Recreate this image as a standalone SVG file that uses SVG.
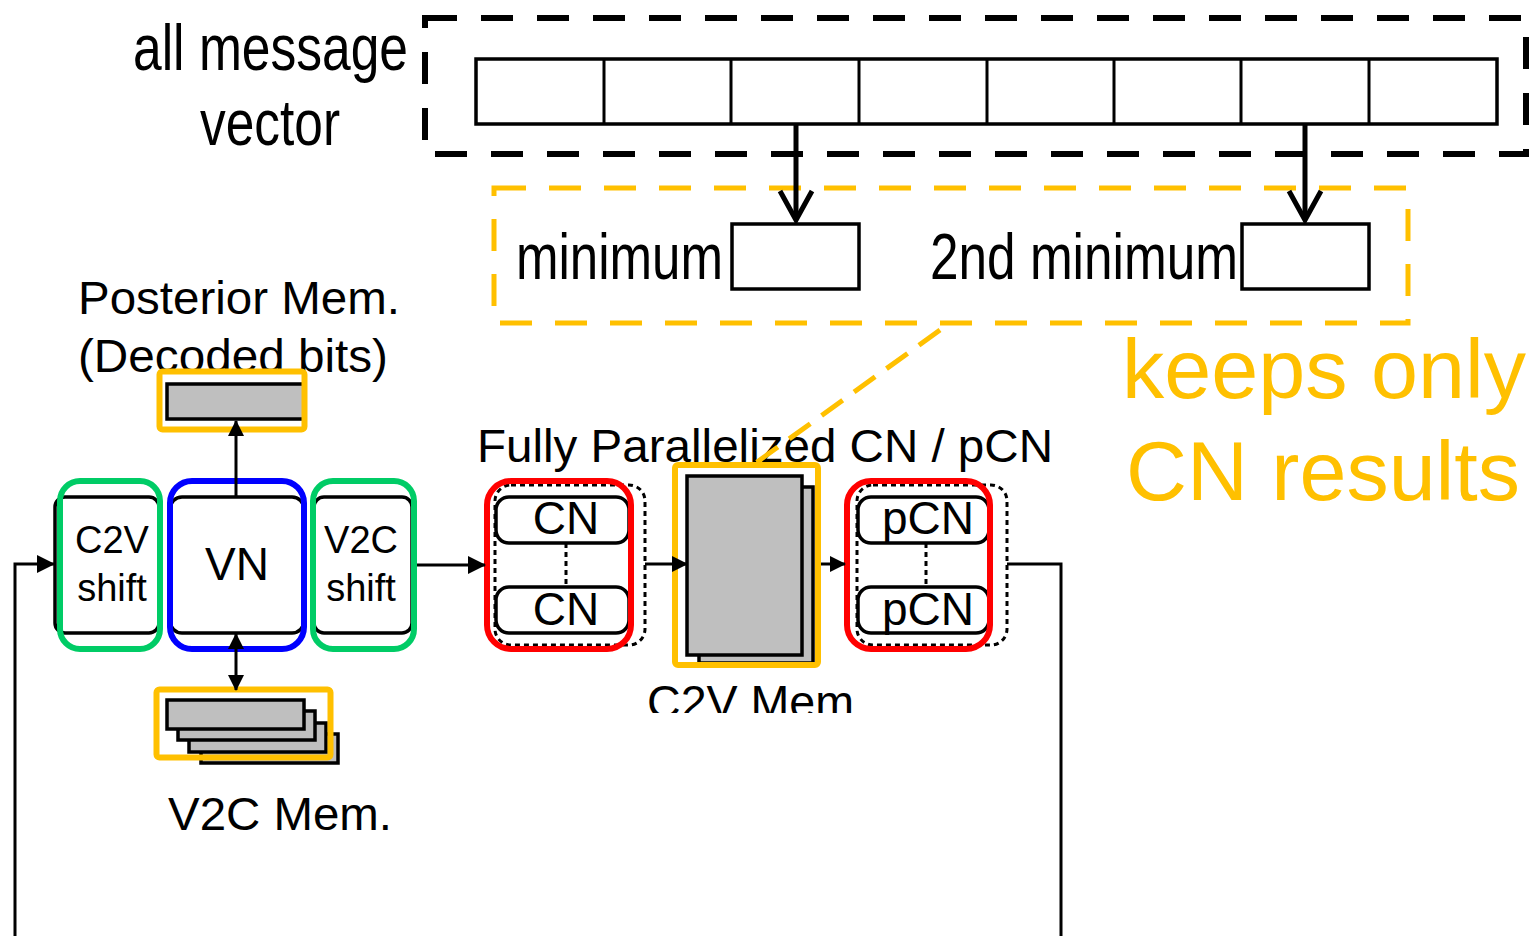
<svg xmlns="http://www.w3.org/2000/svg" width="1530" height="936" viewBox="0 0 1530 936">
  <style>
    text { font-family: "Liberation Sans", Arial, sans-serif; fill: #000; }
    .narrow { font-size: 64px; }
    .lbl { font-size: 46px; }
    .small { font-size: 38px; }
    .note { font-size: 84px; fill: #FFC000; }
    .blk { fill: #fff; stroke: #000; stroke-width: 3.5; }
    .gray { fill: #BFBFBF; stroke: #000; stroke-width: 3.5; }
    .green { fill: none; stroke: #00CC66; stroke-width: 6; }
    .blue { fill: none; stroke: #0000FF; stroke-width: 6; }
    .red { fill: none; stroke: #FF0000; stroke-width: 6; }
    .gold { fill: none; stroke: #FFC000; stroke-width: 6; }
    .dotted { fill: none; stroke: #000; stroke-width: 3; stroke-dasharray: 5 4; }
    .wire { fill: none; stroke: #000; stroke-width: 3; }
    .thick { fill: none; stroke: #000; stroke-width: 5; }
  </style>
  <defs>
    <marker id="tri" viewBox="0 0 18 18" refX="17" refY="9" markerWidth="18" markerHeight="18" markerUnits="userSpaceOnUse" orient="auto-start-reverse">
      <path d="M0,0 L18,9 L0,18 Z" fill="#000"/>
    </marker>
    <marker id="triS" viewBox="0 0 16 16" refX="15" refY="8" markerWidth="16" markerHeight="16" markerUnits="userSpaceOnUse" orient="auto-start-reverse">
      <path d="M0,0 L16,8 L0,16 Z" fill="#000"/>
    </marker>
    <clipPath id="memClip">
      <rect x="600" y="670" width="320" height="43"/>
    </clipPath>
  </defs>

  <!-- message vector with surrounding dashed frame -->
  <g id="message-vector">
    <rect x="425" y="18" width="1101" height="136" fill="none" stroke="#000" stroke-width="6" stroke-dasharray="32 24"/>
    <rect x="476" y="59" width="1021" height="65" class="blk"/>
    <path d="M604,59V124 M731,59V124 M859,59V124 M987,59V124 M1114,59V124 M1241,59V124 M1369,59V124" class="wire" stroke-width="3.5"/>
    <text x="133" y="70" class="narrow" textLength="275" lengthAdjust="spacingAndGlyphs">all message</text>
    <text x="200" y="145" class="narrow" textLength="140" lengthAdjust="spacingAndGlyphs">vector</text>
  </g>

  <!-- kept minimum values -->
  <g id="min-store">
    <rect x="494" y="188" width="914" height="135" fill="none" stroke="#FFC000" stroke-width="5" stroke-dasharray="32 23"/>
    <rect x="732" y="224" width="127" height="65" class="blk"/>
    <rect x="1242" y="224" width="127" height="65" class="blk"/>
    <text x="516" y="279" class="narrow" textLength="207" lengthAdjust="spacingAndGlyphs">minimum</text>
    <text x="930" y="279" class="narrow" textLength="308" lengthAdjust="spacingAndGlyphs">2nd minimum</text>
  </g>

  <g id="note">
    <text x="1122" y="398" class="note" textLength="404" lengthAdjust="spacingAndGlyphs">keeps only</text>
    <text x="1126" y="500" class="note" textLength="394" lengthAdjust="spacingAndGlyphs">CN results</text>
  </g>

  <!-- posterior memory -->
  <g id="posterior-mem">
    <text x="78" y="314" class="lbl" textLength="322" lengthAdjust="spacingAndGlyphs">Posterior Mem.</text>
    <text x="78" y="372" class="lbl" textLength="310" lengthAdjust="spacingAndGlyphs">(Decoded bits)</text>
    <rect x="167" y="384" width="137" height="35" class="gray"/>
    <rect x="159.5" y="371.5" width="145" height="58" rx="3" class="gold" stroke-width="5"/>
  </g>

  <!-- C2V shift -->
  <g id="c2v-shift">
    <rect x="55" y="497" width="104" height="136" rx="10" class="blk"/>
    <rect x="60" y="481" width="100" height="168" rx="20" class="green"/>
    <text x="112" y="553" class="small" text-anchor="middle">C2V</text>
    <text x="112" y="601" class="small" text-anchor="middle">shift</text>
  </g>

  <!-- variable node -->
  <g id="vn">
    <rect x="170" y="497" width="134" height="136" rx="12" class="blk"/>
    <rect x="170" y="481" width="134" height="168" rx="22" class="blue"/>
    <text x="237" y="580" class="lbl" text-anchor="middle">VN</text>
  </g>

  <!-- V2C shift -->
  <g id="v2c-shift">
    <rect x="314" y="497" width="98" height="136" rx="10" class="blk"/>
    <rect x="313" y="481" width="101" height="168" rx="20" class="green"/>
    <text x="361" y="553" class="small" text-anchor="middle">V2C</text>
    <text x="361" y="601" class="small" text-anchor="middle">shift</text>
  </g>

  <!-- V2C memory -->
  <g id="v2c-mem">
    <rect x="201" y="734" width="137" height="29" class="gray"/>
    <rect x="189" y="723" width="137" height="29" class="gray"/>
    <rect x="178" y="711" width="137" height="29" class="gray"/>
    <rect x="167" y="700" width="137" height="29" class="gray"/>
    <rect x="156.5" y="689.5" width="174" height="68" rx="3" class="gold" stroke-width="5"/>
    <text x="168" y="830" class="lbl" textLength="224" lengthAdjust="spacingAndGlyphs">V2C Mem.</text>
  </g>

  <text x="477" y="462" style="font-size:47px" textLength="576" lengthAdjust="spacingAndGlyphs">Fully Parallelized CN / pCN</text>

  <!-- check nodes -->
  <g id="cn-array">
    <rect x="495" y="485" width="150" height="160" rx="16" class="dotted"/>
    <rect x="496" y="497" width="133" height="46" rx="13" class="blk" stroke-width="3"/>
    <rect x="496" y="587" width="133" height="46" rx="13" class="blk" stroke-width="3"/>
    <path d="M566,543V587" class="dotted"/>
    <rect x="487" y="481" width="144" height="168" rx="24" class="red"/>
    <text x="566" y="534" class="lbl" text-anchor="middle">CN</text>
    <text x="566" y="625" class="lbl" text-anchor="middle">CN</text>
  </g>

  <!-- C2V memory -->
  <g id="c2v-mem">
    <rect x="699" y="487" width="114" height="176" class="gray"/>
    <rect x="687" y="476" width="115" height="179" class="gray"/>
    <rect x="675" y="465" width="143" height="200" rx="3" class="gold"/>
    <text x="647" y="718" class="lbl" clip-path="url(#memClip)" textLength="220" lengthAdjust="spacingAndGlyphs">C2V Mem.</text>
  </g>

  <!-- partial check nodes -->
  <g id="pcn-array">
    <rect x="857" y="485" width="150" height="160" rx="16" class="dotted"/>
    <rect x="858" y="497" width="131" height="46" rx="13" class="blk" stroke-width="3"/>
    <rect x="858" y="587" width="131" height="46" rx="13" class="blk" stroke-width="3"/>
    <path d="M926,543V587" class="dotted"/>
    <rect x="847" y="481" width="143" height="168" rx="24" class="red"/>
    <text x="928" y="534" style="font-size:46px" text-anchor="middle">pCN</text>
    <text x="928" y="625" style="font-size:46px" text-anchor="middle">pCN</text>
  </g>

  <!-- connectors -->
  <g id="connectors">
    <!-- vector to minimum registers -->
    <path d="M796,124V220" class="thick"/>
    <path d="M780,191L796,220L812,191" class="thick" stroke-linejoin="miter"/>
    <path d="M1305,124V220" class="thick"/>
    <path d="M1289,191L1305,220L1321,191" class="thick" stroke-linejoin="miter"/>
    <!-- callout from minimum store to C2V memory -->
    <path d="M940,330L753,465" fill="none" stroke="#FFC000" stroke-width="5" stroke-dasharray="26 14"/>
    <!-- datapath -->
    <path d="M236,497V421" class="wire" marker-end="url(#triS)"/>
    <path d="M236,634V690" class="wire" marker-start="url(#triS)" marker-end="url(#triS)"/>
    <path d="M417,565H485" class="wire" marker-end="url(#tri)"/>
    <path d="M645,564H687" class="wire" marker-end="url(#triS)"/>
    <path d="M821,564H845" class="wire" marker-end="url(#triS)"/>
    <path d="M1007,564H1061V936" class="wire"/>
    <path d="M15,936V564H54" class="wire" marker-end="url(#tri)"/>
  </g>
</svg>
